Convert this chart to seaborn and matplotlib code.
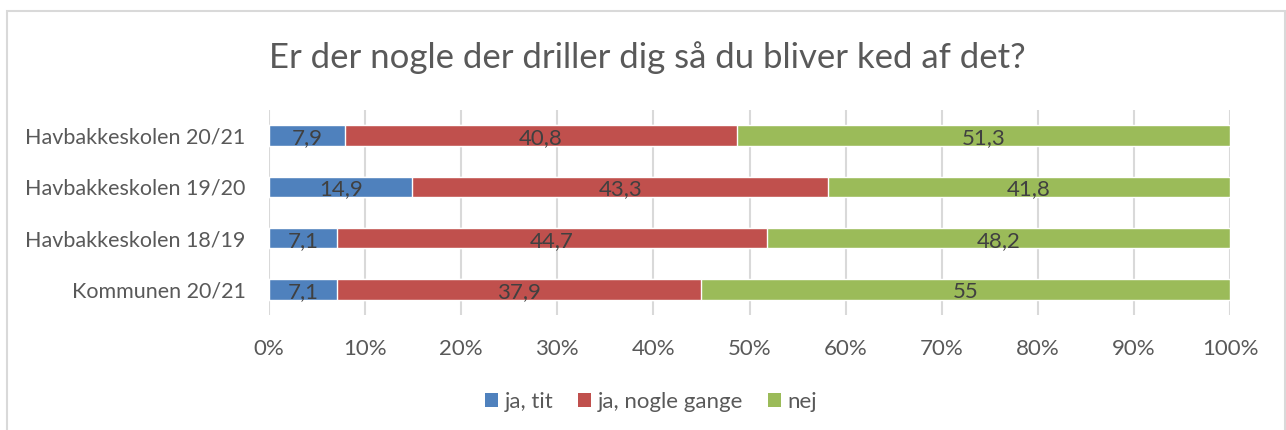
import matplotlib
matplotlib.use("Agg")
import numpy as np
import pandas as pd
import matplotlib.pyplot as plt
import seaborn as sns
from matplotlib.patches import Rectangle, Patch
from matplotlib.ticker import PercentFormatter

# Data
categories = ["Havbakkeskolen 20/21", "Havbakkeskolen 19/20",
              "Havbakkeskolen 18/19", "Kommunen 20/21"]
series_names = ["ja, tit", "ja, nogle gange", "nej"]
ja_tit = [7.9, 14.9, 7.1, 7.1]
ja_nogle_gange = [40.8, 43.3, 44.7, 37.9]
nej = [51.3, 41.8, 48.2, 55]
value_labels = [["7,9", "14,9", "7,1", "7,1"],
                ["40,8", "43,3", "44,7", "37,9"],
                ["51,3", "41,8", "48,2", "55"]]
title = "Er der nogle der driller dig så du bliver ked af det?"

colors = ["#4F81BD", "#C0504D", "#9BBB59"]
text_gray = "#595959"
label_gray = "#404040"
grid_gray = "#D9D9D9"

sns.set_theme(style="white")
plt.rcParams["font.family"] = ["Lato", "DejaVu Sans"]

df = pd.DataFrame({"kategori": categories, "ja, tit": ja_tit,
                   "ja, nogle gange": ja_nogle_gange, "nej": nej})
values = df[series_names].to_numpy()
cum = values.cumsum(axis=1)

fig = plt.figure(figsize=(12.86, 4.30), dpi=100)
ax = fig.add_axes([269 / 1286, 1 - 315 / 430, (1230 - 269) / 1286, (315 - 110) / 430])

# stacked bars: draw cumulative totals from the back
for i in range(len(series_names) - 1, -1, -1):
    sns.barplot(x=cum[:, i], y=df["kategori"], orient="h", color=colors[i],
                width=0.4, saturation=1, ax=ax, zorder=3)

# centred value labels
for i in range(len(series_names)):
    starts = cum[:, i] - values[:, i]
    for j in range(len(categories)):
        ax.text(starts[j] + values[:, i][j] / 2, j + 0.05, value_labels[i][j],
                ha="center", va="center", fontsize=16, color=label_gray, zorder=4)

ax.set_xlim(0, 100)
ax.set_ylim(3.5, -0.5)
ax.set_xticks(np.arange(0, 101, 10))
ax.xaxis.set_major_formatter(PercentFormatter(decimals=0))
ax.grid(axis="x", color=grid_gray, linewidth=1.5, zorder=0)
ax.set_axisbelow(True)
for s in ax.spines.values():
    s.set_visible(False)
ax.set_xlabel("")
ax.set_ylabel("")
ax.tick_params(axis="x", colors=text_gray, labelsize=16, length=0, pad=17)
ax.tick_params(axis="y", colors=text_gray, labelsize=15.5, length=0, pad=17)

fig.text(647 / 1286, 1 - 58 / 430, title, ha="center", va="center",
         fontsize=25, color=text_gray)

handles = [Patch(facecolor=c, edgecolor="none") for c in colors]
fig.legend(handles, series_names, loc="center", bbox_to_anchor=(651 / 1286, 1 - 402 / 430),
           ncol=3, frameon=False, fontsize=16, labelcolor=text_gray,
           handlelength=0.6, handleheight=0.6, handletextpad=0.3, columnspacing=1.1)

# chart frame
fig.add_artist(Rectangle((7 / 1286, -0.05), (1285 - 7) / 1286, 1.05 - 11 / 430,
                         transform=fig.transFigure, fill=False,
                         edgecolor=grid_gray, linewidth=1.5))

fig.savefig("out.png", dpi=100)
